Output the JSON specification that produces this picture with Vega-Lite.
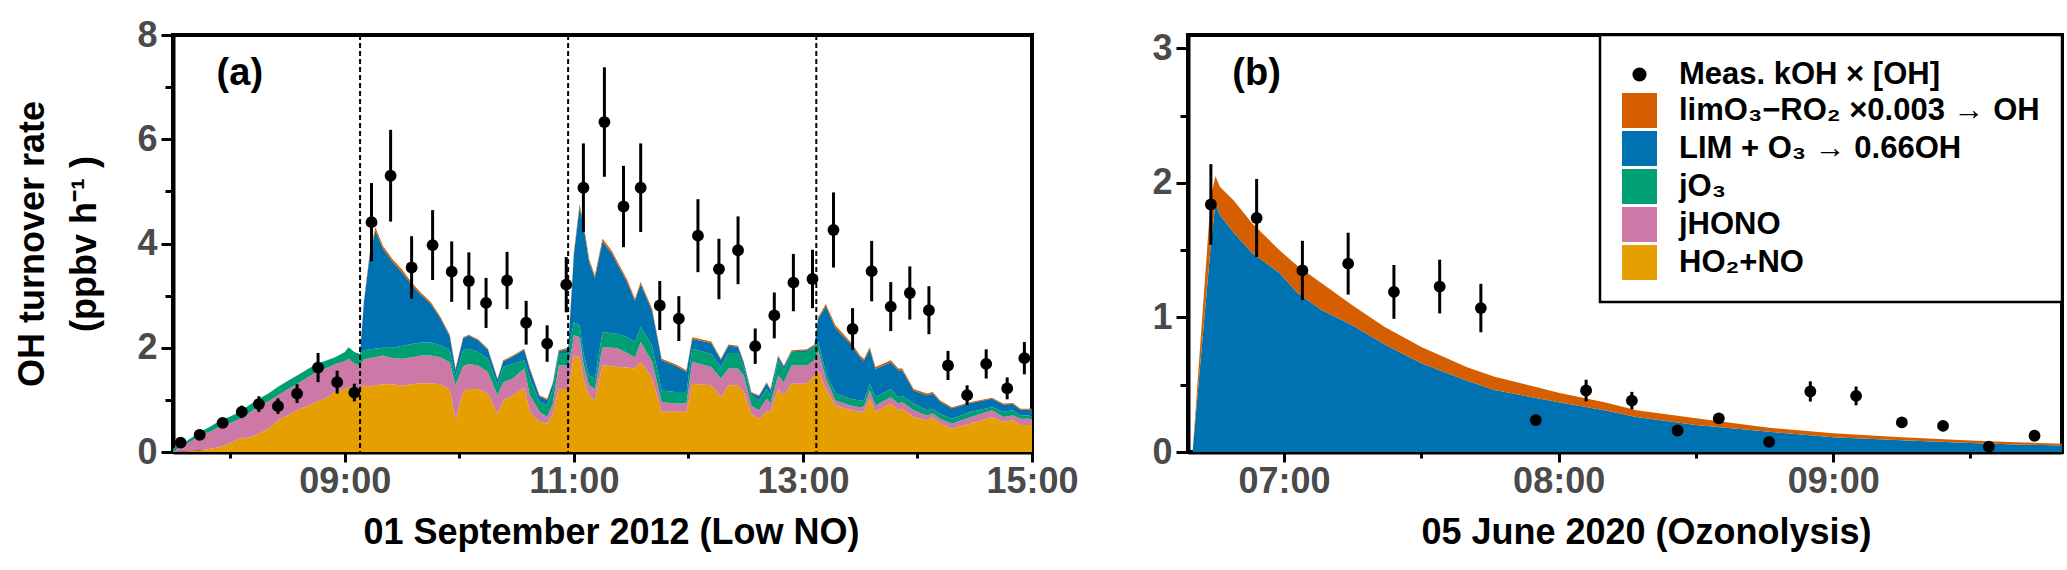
{
  "$schema": "https://vega.github.io/schema/vega-lite/v6.json",
  "padding": {"left": 12, "top": 15, "right": 5, "bottom": 5},
  "spacing": 68,
  "resolve": {"scale": {"color": "independent"}},
  "config": {
    "font": "Liberation Sans",
    "view": {"stroke": "black", "strokeWidth": 4},
    "axis": {
      "domainColor": "black", "domainWidth": 4, "tickColor": "black", "tickWidth": 3,
      "labelFont": "Liberation Sans", "labelFontSize": 36, "labelFontWeight": "bold", "labelColor": "#4a4a4a",
      "titleFont": "Liberation Sans", "titleFontSize": 36, "titleFontWeight": "bold", "titleColor": "black",
      "grid": false, "labelFlush": false, "labelOverlap": false
    }
  },
  "hconcat": [
    {
      "width": 859,
      "height": 417,
      "layer": [
        {
          "data": {
            "format": {"parse": {"time": "utc:'%H:%M'"}},
            "values": [
              {"time": "07:30", "ho2_no": 0, "j_hono": 0.02, "j_o3": 0.04, "lim_o3": 0, "limo3_ro2": 0},
              {"time": "07:36", "ho2_no": 0.01, "j_hono": 0.11, "j_o3": 0.06, "lim_o3": 0, "limo3_ro2": 0},
              {"time": "07:44", "ho2_no": 0.03, "j_hono": 0.29, "j_o3": 0.06, "lim_o3": 0, "limo3_ro2": 0},
              {"time": "07:50", "ho2_no": 0.06, "j_hono": 0.34, "j_o3": 0.1, "lim_o3": 0, "limo3_ro2": 0},
              {"time": "07:55", "ho2_no": 0.1, "j_hono": 0.4, "j_o3": 0.11, "lim_o3": 0, "limo3_ro2": 0},
              {"time": "08:00", "ho2_no": 0.17, "j_hono": 0.38, "j_o3": 0.13, "lim_o3": 0, "limo3_ro2": 0},
              {"time": "08:05", "ho2_no": 0.26, "j_hono": 0.38, "j_o3": 0.13, "lim_o3": 0, "limo3_ro2": 0},
              {"time": "08:10", "ho2_no": 0.28, "j_hono": 0.47, "j_o3": 0.15, "lim_o3": 0, "limo3_ro2": 0},
              {"time": "08:15", "ho2_no": 0.35, "j_hono": 0.54, "j_o3": 0.13, "lim_o3": 0, "limo3_ro2": 0},
              {"time": "08:20", "ho2_no": 0.45, "j_hono": 0.52, "j_o3": 0.15, "lim_o3": 0, "limo3_ro2": 0},
              {"time": "08:25", "ho2_no": 0.61, "j_hono": 0.48, "j_o3": 0.16, "lim_o3": 0, "limo3_ro2": 0},
              {"time": "08:30", "ho2_no": 0.7, "j_hono": 0.5, "j_o3": 0.16, "lim_o3": 0, "limo3_ro2": 0},
              {"time": "08:35", "ho2_no": 0.8, "j_hono": 0.51, "j_o3": 0.16, "lim_o3": 0, "limo3_ro2": 0},
              {"time": "08:40", "ho2_no": 0.88, "j_hono": 0.54, "j_o3": 0.16, "lim_o3": 0, "limo3_ro2": 0},
              {"time": "08:45", "ho2_no": 0.96, "j_hono": 0.57, "j_o3": 0.16, "lim_o3": 0, "limo3_ro2": 0},
              {"time": "08:50", "ho2_no": 1.03, "j_hono": 0.57, "j_o3": 0.15, "lim_o3": 0, "limo3_ro2": 0},
              {"time": "08:55", "ho2_no": 1.15, "j_hono": 0.54, "j_o3": 0.13, "lim_o3": 0, "limo3_ro2": 0},
              {"time": "09:00", "ho2_no": 1.2, "j_hono": 0.54, "j_o3": 0.18, "lim_o3": 0, "limo3_ro2": 0},
              {"time": "09:02", "ho2_no": 1.25, "j_hono": 0.54, "j_o3": 0.22, "lim_o3": 0, "limo3_ro2": 0},
              {"time": "09:05", "ho2_no": 1.22, "j_hono": 0.48, "j_o3": 0.22, "lim_o3": 0, "limo3_ro2": 0},
              {"time": "09:08", "ho2_no": 1.2, "j_hono": 0.46, "j_o3": 0.22, "lim_o3": 0, "limo3_ro2": 0},
              {"time": "09:10", "ho2_no": 1.28, "j_hono": 0.5, "j_o3": 0.17, "lim_o3": 0.92, "limo3_ro2": 0.03},
              {"time": "09:13", "ho2_no": 1.25, "j_hono": 0.55, "j_o3": 0.17, "lim_o3": 1.78, "limo3_ro2": 0.05},
              {"time": "09:16", "ho2_no": 1.28, "j_hono": 0.54, "j_o3": 0.16, "lim_o3": 2.27, "limo3_ro2": 0.06},
              {"time": "09:20", "ho2_no": 1.3, "j_hono": 0.55, "j_o3": 0.15, "lim_o3": 1.9, "limo3_ro2": 0.05},
              {"time": "09:25", "ho2_no": 1.3, "j_hono": 0.5, "j_o3": 0.2, "lim_o3": 1.65, "limo3_ro2": 0.05},
              {"time": "09:30", "ho2_no": 1.27, "j_hono": 0.52, "j_o3": 0.25, "lim_o3": 1.41, "limo3_ro2": 0.05},
              {"time": "09:35", "ho2_no": 1.3, "j_hono": 0.52, "j_o3": 0.25, "lim_o3": 1.14, "limo3_ro2": 0.04},
              {"time": "09:40", "ho2_no": 1.32, "j_hono": 0.53, "j_o3": 0.25, "lim_o3": 0.91, "limo3_ro2": 0.04},
              {"time": "09:45", "ho2_no": 1.32, "j_hono": 0.53, "j_o3": 0.25, "lim_o3": 0.74, "limo3_ro2": 0.04},
              {"time": "09:50", "ho2_no": 1.3, "j_hono": 0.52, "j_o3": 0.23, "lim_o3": 0.52, "limo3_ro2": 0.03},
              {"time": "09:55", "ho2_no": 1.2, "j_hono": 0.52, "j_o3": 0.23, "lim_o3": 0.27, "limo3_ro2": 0.03},
              {"time": "09:58", "ho2_no": 0.62, "j_hono": 0.66, "j_o3": 0.17, "lim_o3": 0.13, "limo3_ro2": 0.02},
              {"time": "10:02", "ho2_no": 1.15, "j_hono": 0.5, "j_o3": 0.3, "lim_o3": 0.23, "limo3_ro2": 0.02},
              {"time": "10:05", "ho2_no": 1.21, "j_hono": 0.48, "j_o3": 0.29, "lim_o3": 0.25, "limo3_ro2": 0.02},
              {"time": "10:10", "ho2_no": 1.21, "j_hono": 0.45, "j_o3": 0.26, "lim_o3": 0.22, "limo3_ro2": 0.02},
              {"time": "10:15", "ho2_no": 1.12, "j_hono": 0.41, "j_o3": 0.26, "lim_o3": 0.17, "limo3_ro2": 0.02},
              {"time": "10:20", "ho2_no": 0.73, "j_hono": 0.36, "j_o3": 0.19, "lim_o3": 0.11, "limo3_ro2": 0.02},
              {"time": "10:23", "ho2_no": 0.99, "j_hono": 0.35, "j_o3": 0.29, "lim_o3": 0.11, "limo3_ro2": 0.02},
              {"time": "10:28", "ho2_no": 1.09, "j_hono": 0.32, "j_o3": 0.28, "lim_o3": 0.14, "limo3_ro2": 0.02},
              {"time": "10:34", "ho2_no": 1.23, "j_hono": 0.37, "j_o3": 0.16, "lim_o3": 0.2, "limo3_ro2": 0.02},
              {"time": "10:37", "ho2_no": 0.77, "j_hono": 0.32, "j_o3": 0.32, "lim_o3": 0.17, "limo3_ro2": 0.02},
              {"time": "10:42", "ho2_no": 0.58, "j_hono": 0.19, "j_o3": 0.19, "lim_o3": 0.11, "limo3_ro2": 0.02},
              {"time": "10:46", "ho2_no": 0.54, "j_hono": 0.13, "j_o3": 0.22, "lim_o3": 0.11, "limo3_ro2": 0.02},
              {"time": "10:49", "ho2_no": 0.73, "j_hono": 0.2, "j_o3": 0.28, "lim_o3": 0.11, "limo3_ro2": 0.02},
              {"time": "10:52", "ho2_no": 1.21, "j_hono": 0.45, "j_o3": 0.24, "lim_o3": 0.03, "limo3_ro2": 0.02},
              {"time": "10:57", "ho2_no": 1.21, "j_hono": 0.45, "j_o3": 0.24, "lim_o3": 0.08, "limo3_ro2": 0.02},
              {"time": "10:59", "ho2_no": 1.6, "j_hono": 0.4, "j_o3": 0.3, "lim_o3": 0.86, "limo3_ro2": 0.04},
              {"time": "11:00", "ho2_no": 1.85, "j_hono": 0.39, "j_o3": 0.25, "lim_o3": 1.29, "limo3_ro2": 0.05},
              {"time": "11:03", "ho2_no": 1.82, "j_hono": 0.38, "j_o3": 0.23, "lim_o3": 2.27, "limo3_ro2": 0.06},
              {"time": "11:05", "ho2_no": 1.4, "j_hono": 0.3, "j_o3": 0.2, "lim_o3": 2.44, "limo3_ro2": 0.06},
              {"time": "11:08", "ho2_no": 1.09, "j_hono": 0.19, "j_o3": 0.19, "lim_o3": 2.18, "limo3_ro2": 0.05},
              {"time": "11:11", "ho2_no": 0.99, "j_hono": 0.22, "j_o3": 0.2, "lim_o3": 1.93, "limo3_ro2": 0.05},
              {"time": "11:15", "ho2_no": 1.66, "j_hono": 0.35, "j_o3": 0.29, "lim_o3": 1.74, "limo3_ro2": 0.05},
              {"time": "11:20", "ho2_no": 1.65, "j_hono": 0.35, "j_o3": 0.28, "lim_o3": 1.52, "limo3_ro2": 0.05},
              {"time": "11:23", "ho2_no": 1.63, "j_hono": 0.36, "j_o3": 0.28, "lim_o3": 1.32, "limo3_ro2": 0.05},
              {"time": "11:28", "ho2_no": 1.62, "j_hono": 0.28, "j_o3": 0.3, "lim_o3": 1.05, "limo3_ro2": 0.05},
              {"time": "11:32", "ho2_no": 1.6, "j_hono": 0.22, "j_o3": 0.29, "lim_o3": 0.79, "limo3_ro2": 0.04},
              {"time": "11:35", "ho2_no": 1.73, "j_hono": 0.38, "j_o3": 0.29, "lim_o3": 0.82, "limo3_ro2": 0.04},
              {"time": "11:41", "ho2_no": 1.41, "j_hono": 0.32, "j_o3": 0.31, "lim_o3": 0.67, "limo3_ro2": 0.04},
              {"time": "11:46", "ho2_no": 0.77, "j_hono": 0.19, "j_o3": 0.22, "lim_o3": 0.58, "limo3_ro2": 0.03},
              {"time": "11:53", "ho2_no": 0.77, "j_hono": 0.16, "j_o3": 0.22, "lim_o3": 0.51, "limo3_ro2": 0.03},
              {"time": "11:59", "ho2_no": 0.77, "j_hono": 0.16, "j_o3": 0.22, "lim_o3": 0.39, "limo3_ro2": 0.03},
              {"time": "12:02", "ho2_no": 1.31, "j_hono": 0.42, "j_o3": 0.25, "lim_o3": 0.19, "limo3_ro2": 0.03},
              {"time": "12:12", "ho2_no": 1.28, "j_hono": 0.35, "j_o3": 0.25, "lim_o3": 0.21, "limo3_ro2": 0.03},
              {"time": "12:17", "ho2_no": 1.05, "j_hono": 0.36, "j_o3": 0.22, "lim_o3": 0.14, "limo3_ro2": 0.02},
              {"time": "12:21", "ho2_no": 1.28, "j_hono": 0.32, "j_o3": 0.3, "lim_o3": 0.14, "limo3_ro2": 0.02},
              {"time": "12:26", "ho2_no": 1.28, "j_hono": 0.32, "j_o3": 0.3, "lim_o3": 0.12, "limo3_ro2": 0.02},
              {"time": "12:29", "ho2_no": 1.15, "j_hono": 0.32, "j_o3": 0.16, "lim_o3": 0.08, "limo3_ro2": 0.02},
              {"time": "12:33", "ho2_no": 0.73, "j_hono": 0.16, "j_o3": 0.2, "lim_o3": 0.04, "limo3_ro2": 0.02},
              {"time": "12:37", "ho2_no": 0.64, "j_hono": 0.16, "j_o3": 0.19, "lim_o3": 0.08, "limo3_ro2": 0.02},
              {"time": "12:41", "ho2_no": 0.77, "j_hono": 0.25, "j_o3": 0.19, "lim_o3": 0.11, "limo3_ro2": 0.02},
              {"time": "12:43", "ho2_no": 0.77, "j_hono": 0.16, "j_o3": 0.16, "lim_o3": 0.1, "limo3_ro2": 0.02},
              {"time": "12:47", "ho2_no": 1.21, "j_hono": 0.26, "j_o3": 0.29, "lim_o3": 0.07, "limo3_ro2": 0.02},
              {"time": "12:50", "ho2_no": 1.09, "j_hono": 0.25, "j_o3": 0.23, "lim_o3": 0.07, "limo3_ro2": 0.02},
              {"time": "12:54", "ho2_no": 1.31, "j_hono": 0.35, "j_o3": 0.26, "lim_o3": 0.01, "limo3_ro2": 0.02},
              {"time": "13:02", "ho2_no": 1.31, "j_hono": 0.35, "j_o3": 0.26, "lim_o3": 0.03, "limo3_ro2": 0.02},
              {"time": "13:06", "ho2_no": 1.47, "j_hono": 0.29, "j_o3": 0.25, "lim_o3": 0.03, "limo3_ro2": 0.02},
              {"time": "13:08", "ho2_no": 1.57, "j_hono": 0.38, "j_o3": 0.16, "lim_o3": 0.45, "limo3_ro2": 0.03},
              {"time": "13:12", "ho2_no": 1.21, "j_hono": 0.2, "j_o3": 0.12, "lim_o3": 1.26, "limo3_ro2": 0.05},
              {"time": "13:17", "ho2_no": 0.89, "j_hono": 0.1, "j_o3": 0.13, "lim_o3": 1.26, "limo3_ro2": 0.05},
              {"time": "13:25", "ho2_no": 0.8, "j_hono": 0.09, "j_o3": 0.13, "lim_o3": 1.05, "limo3_ro2": 0.04},
              {"time": "13:30", "ho2_no": 0.77, "j_hono": 0.09, "j_o3": 0.13, "lim_o3": 0.82, "limo3_ro2": 0.04},
              {"time": "13:32", "ho2_no": 0.77, "j_hono": 0.11, "j_o3": 0.12, "lim_o3": 0.75, "limo3_ro2": 0.04},
              {"time": "13:35", "ho2_no": 1.02, "j_hono": 0.16, "j_o3": 0.13, "lim_o3": 0.66, "limo3_ro2": 0.04},
              {"time": "13:38", "ho2_no": 0.77, "j_hono": 0.12, "j_o3": 0.16, "lim_o3": 0.54, "limo3_ro2": 0.04},
              {"time": "13:46", "ho2_no": 0.93, "j_hono": 0.12, "j_o3": 0.16, "lim_o3": 0.51, "limo3_ro2": 0.04},
              {"time": "13:50", "ho2_no": 0.8, "j_hono": 0.13, "j_o3": 0.12, "lim_o3": 0.52, "limo3_ro2": 0.03},
              {"time": "13:52", "ho2_no": 0.83, "j_hono": 0.13, "j_o3": 0.12, "lim_o3": 0.49, "limo3_ro2": 0.03},
              {"time": "13:58", "ho2_no": 0.67, "j_hono": 0.13, "j_o3": 0.13, "lim_o3": 0.25, "limo3_ro2": 0.03},
              {"time": "14:05", "ho2_no": 0.61, "j_hono": 0.09, "j_o3": 0.1, "lim_o3": 0.29, "limo3_ro2": 0.03},
              {"time": "14:08", "ho2_no": 0.66, "j_hono": 0.08, "j_o3": 0.09, "lim_o3": 0.29, "limo3_ro2": 0.03},
              {"time": "14:12", "ho2_no": 0.54, "j_hono": 0.1, "j_o3": 0.09, "lim_o3": 0.23, "limo3_ro2": 0.03},
              {"time": "14:18", "ho2_no": 0.45, "j_hono": 0.09, "j_o3": 0.1, "lim_o3": 0.2, "limo3_ro2": 0.02},
              {"time": "14:28", "ho2_no": 0.54, "j_hono": 0.13, "j_o3": 0.1, "lim_o3": 0.17, "limo3_ro2": 0.02},
              {"time": "14:39", "ho2_no": 0.67, "j_hono": 0.13, "j_o3": 0.06, "lim_o3": 0.16, "limo3_ro2": 0.02},
              {"time": "14:45", "ho2_no": 0.58, "j_hono": 0.09, "j_o3": 0.1, "lim_o3": 0.14, "limo3_ro2": 0.02},
              {"time": "14:50", "ho2_no": 0.61, "j_hono": 0.09, "j_o3": 0.1, "lim_o3": 0.12, "limo3_ro2": 0.02},
              {"time": "14:54", "ho2_no": 0.52, "j_hono": 0.12, "j_o3": 0.06, "lim_o3": 0.11, "limo3_ro2": 0.02},
              {"time": "15:00", "ho2_no": 0.52, "j_hono": 0.12, "j_o3": 0.06, "lim_o3": 0.11, "limo3_ro2": 0.02}
            ]
          },
          "transform": [{"fold": ["ho2_no", "j_hono", "j_o3", "lim_o3", "limo3_ro2"], "as": ["key", "v"]}],
          "mark": {"type": "area", "opacity": 1, "interpolate": "linear"},
          "encoding": {
            "x": {
              "field": "time", "type": "temporal",
              "scale": {"type": "utc", "domain": [
                {"year": 1900, "month": 1, "date": 1, "hours": 7, "minutes": 30, "utc": true},
                {"year": 1900, "month": 1, "date": 1, "hours": 15, "minutes": 0, "utc": true}]},
              "title": "01 September 2012 (Low NO)",
              "axis": {
                "values": [
                  {"year": 1900, "month": 1, "date": 1, "hours": 8, "utc": true},
                  {"year": 1900, "month": 1, "date": 1, "hours": 9, "utc": true},
                  {"year": 1900, "month": 1, "date": 1, "hours": 10, "utc": true},
                  {"year": 1900, "month": 1, "date": 1, "hours": 11, "utc": true},
                  {"year": 1900, "month": 1, "date": 1, "hours": 12, "utc": true},
                  {"year": 1900, "month": 1, "date": 1, "hours": 13, "utc": true},
                  {"year": 1900, "month": 1, "date": 1, "hours": 14, "utc": true},
                  {"year": 1900, "month": 1, "date": 1, "hours": 15, "utc": true}
                ],
                "labelExpr": "utchours(datum.value) % 2 == 1 ? utcFormat(datum.value, '%H:%M') : ''",
                "tickSize": {"condition": {"test": "utchours(datum.value) % 2 == 1", "value": 10}, "value": 6},
                "labelOverlap": false,
                "labelPadding": 2,
                "titlePadding": 16,
                "titleX": 438
              }
            },
            "y": {
              "field": "v", "type": "quantitative",
              "scale": {"domain": [0, 8], "nice": false},
              "title": ["OH turnover rate", "(ppbv h⁻¹ )"],
              "axis": {
                "values": [0, 0.5, 1, 1.5, 2, 2.5, 3, 3.5, 4, 4.5, 5, 5.5, 6, 6.5, 7, 7.5, 8],
                "labelExpr": "datum.value % 2 == 0 ? format(datum.value, 'd') : ''",
                "tickSize": {"condition": {"test": "datum.value % 2 == 0", "value": 12}, "value": 8},
                "labelOverlap": false,
                "labelPadding": 4,
                "titlePadding": 33,
                "titleLineHeight": 52
              }
            },
            "color": {
              "field": "key", "type": "nominal",
              "scale": {
                "domain": ["meas", "limo3_ro2", "lim_o3", "j_o3", "j_hono", "ho2_no"],
                "range": ["black", "#D55E00", "#0072B2", "#009E73", "#CC79A7", "#E69F00"]
              },
              "legend": null
            },
            "order": {"field": "key", "type": "ordinal", "sort": "ascending"}
          }
        },
        {
          "data": {
            "format": {"parse": {"time": "utc:'%H:%M'"}},
            "values": [{"time": "09:08"}, {"time": "10:57"}, {"time": "13:07"}]
          },
          "mark": {"type": "rule", "color": "black", "strokeWidth": 2, "strokeDash": [5, 3]},
          "encoding": {
            "x": {"field": "time", "type": "temporal", "title": "01 September 2012 (Low NO)"}
          }
        },
        {
          "data": {
            "format": {"parse": {"time": "utc:'%H:%M'"}},
            "values": [
              {"time": "07:34", "v": 0.18, "e": 0.04},
              {"time": "07:44", "v": 0.33, "e": 0.06},
              {"time": "07:56", "v": 0.56, "e": 0.09},
              {"time": "08:06", "v": 0.77, "e": 0.12},
              {"time": "08:15", "v": 0.92, "e": 0.15},
              {"time": "08:25", "v": 0.88, "e": 0.15},
              {"time": "08:35", "v": 1.12, "e": 0.18},
              {"time": "08:46", "v": 1.62, "e": 0.28},
              {"time": "08:56", "v": 1.34, "e": 0.22},
              {"time": "09:05", "v": 1.14, "e": 0.17},
              {"time": "09:14", "v": 4.41, "e": 0.75},
              {"time": "09:24", "v": 5.3, "e": 0.88},
              {"time": "09:35", "v": 3.54, "e": 0.6},
              {"time": "09:46", "v": 3.97, "e": 0.67},
              {"time": "09:56", "v": 3.46, "e": 0.58},
              {"time": "10:05", "v": 3.28, "e": 0.55},
              {"time": "10:14", "v": 2.86, "e": 0.48},
              {"time": "10:25", "v": 3.29, "e": 0.55},
              {"time": "10:35", "v": 2.48, "e": 0.42},
              {"time": "10:46", "v": 2.08, "e": 0.35},
              {"time": "10:56", "v": 3.21, "e": 0.53},
              {"time": "11:05", "v": 5.07, "e": 0.85},
              {"time": "11:16", "v": 6.33, "e": 1.05},
              {"time": "11:26", "v": 4.71, "e": 0.78},
              {"time": "11:35", "v": 5.07, "e": 0.85},
              {"time": "11:45", "v": 2.81, "e": 0.47},
              {"time": "11:55", "v": 2.56, "e": 0.43},
              {"time": "12:05", "v": 4.15, "e": 0.7},
              {"time": "12:16", "v": 3.51, "e": 0.58},
              {"time": "12:26", "v": 3.87, "e": 0.65},
              {"time": "12:35", "v": 2.03, "e": 0.34},
              {"time": "12:45", "v": 2.62, "e": 0.44},
              {"time": "12:55", "v": 3.25, "e": 0.55},
              {"time": "13:05", "v": 3.32, "e": 0.56},
              {"time": "13:16", "v": 4.26, "e": 0.72},
              {"time": "13:26", "v": 2.36, "e": 0.4},
              {"time": "13:36", "v": 3.47, "e": 0.58},
              {"time": "13:46", "v": 2.79, "e": 0.47},
              {"time": "13:56", "v": 3.05, "e": 0.51},
              {"time": "14:06", "v": 2.72, "e": 0.46},
              {"time": "14:16", "v": 1.66, "e": 0.28},
              {"time": "14:26", "v": 1.09, "e": 0.19},
              {"time": "14:36", "v": 1.69, "e": 0.28},
              {"time": "14:47", "v": 1.22, "e": 0.21},
              {"time": "14:56", "v": 1.8, "e": 0.31}
            ]
          },
          "encoding": {
            "x": {"field": "time", "type": "temporal", "title": "01 September 2012 (Low NO)"},
            "y": {"field": "v", "type": "quantitative", "title": ["OH turnover rate", "(ppbv h⁻¹ )"]}
          },
          "layer": [
            {
              "mark": {"type": "errorbar", "color": "black", "thickness": 3},
              "encoding": {"yError": {"field": "e"}}
            },
            {
              "mark": {"type": "point", "filled": true, "color": "black", "opacity": 1, "size": 140}
            }
          ]
        },
        {
          "data": {"values": [{}]},
          "mark": {"type": "text", "text": "(a)", "fontSize": 38, "fontWeight": "bold", "color": "black", "align": "center", "baseline": "middle"},
          "encoding": {
            "x": {"datum": {"year": 1900, "month": 1, "date": 1, "hours": 8, "minutes": 5, "utc": true}, "type": "temporal", "title": "01 September 2012 (Low NO)"},
            "y": {"datum": 7.25, "type": "quantitative", "title": ["OH turnover rate", "(ppbv h⁻¹ )"]}
          }
        }
      ]
    },
    {
      "width": 874,
      "height": 417,
      "layer": [
        {
          "data": {
            "format": {"parse": {"time": "utc:'%H:%M'"}},
            "values": [
              {"time": "06:40", "lim_o3": 0, "limo3_ro2": 0},
              {"time": "06:44", "lim_o3": 1.55, "limo3_ro2": 0.35},
              {"time": "06:45", "lim_o3": 1.85, "limo3_ro2": 0.2},
              {"time": "06:46", "lim_o3": 1.76, "limo3_ro2": 0.21},
              {"time": "06:49", "lim_o3": 1.63, "limo3_ro2": 0.24},
              {"time": "06:53", "lim_o3": 1.48, "limo3_ro2": 0.22},
              {"time": "06:59", "lim_o3": 1.33, "limo3_ro2": 0.17},
              {"time": "07:03", "lim_o3": 1.18, "limo3_ro2": 0.2},
              {"time": "07:08", "lim_o3": 1.06, "limo3_ro2": 0.2},
              {"time": "07:15", "lim_o3": 0.94, "limo3_ro2": 0.15},
              {"time": "07:22", "lim_o3": 0.8, "limo3_ro2": 0.13},
              {"time": "07:30", "lim_o3": 0.66, "limo3_ro2": 0.12},
              {"time": "07:40", "lim_o3": 0.53, "limo3_ro2": 0.1},
              {"time": "07:46", "lim_o3": 0.46, "limo3_ro2": 0.1},
              {"time": "08:00", "lim_o3": 0.37, "limo3_ro2": 0.07},
              {"time": "08:10", "lim_o3": 0.31, "limo3_ro2": 0.06},
              {"time": "08:17", "lim_o3": 0.26, "limo3_ro2": 0.05},
              {"time": "08:30", "lim_o3": 0.2, "limo3_ro2": 0.05},
              {"time": "08:46", "lim_o3": 0.15, "limo3_ro2": 0.03},
              {"time": "09:00", "lim_o3": 0.11, "limo3_ro2": 0.03},
              {"time": "09:15", "lim_o3": 0.088, "limo3_ro2": 0.022},
              {"time": "09:30", "lim_o3": 0.067, "limo3_ro2": 0.018},
              {"time": "09:40", "lim_o3": 0.056, "limo3_ro2": 0.016},
              {"time": "09:50", "lim_o3": 0.048, "limo3_ro2": 0.014}
            ]
          },
          "transform": [{"fold": ["lim_o3", "limo3_ro2"], "as": ["key", "v"]}],
          "mark": {"type": "area", "opacity": 1, "interpolate": "linear"},
          "encoding": {
            "x": {
              "field": "time", "type": "temporal",
              "scale": {"type": "utc", "domain": [
                {"year": 1900, "month": 1, "date": 1, "hours": 6, "minutes": 39, "utc": true},
                {"year": 1900, "month": 1, "date": 1, "hours": 9, "minutes": 50, "utc": true}]},
              "title": "05 June 2020 (Ozonolysis)",
              "axis": {
                "values": [
                  {"year": 1900, "month": 1, "date": 1, "hours": 7, "minutes": 0, "utc": true},
                  {"year": 1900, "month": 1, "date": 1, "hours": 7, "minutes": 30, "utc": true},
                  {"year": 1900, "month": 1, "date": 1, "hours": 8, "minutes": 0, "utc": true},
                  {"year": 1900, "month": 1, "date": 1, "hours": 8, "minutes": 30, "utc": true},
                  {"year": 1900, "month": 1, "date": 1, "hours": 9, "minutes": 0, "utc": true},
                  {"year": 1900, "month": 1, "date": 1, "hours": 9, "minutes": 30, "utc": true}
                ],
                "labelExpr": "utcminutes(datum.value) == 0 ? utcFormat(datum.value, '%H:%M') : ''",
                "tickSize": {"condition": {"test": "utcminutes(datum.value) == 0", "value": 10}, "value": 6},
                "labelOverlap": false,
                "labelPadding": 2,
                "titlePadding": 16,
                "titleX": 458
              }
            },
            "y": {
              "field": "v", "type": "quantitative",
              "scale": {"domain": [0, 3.1], "nice": false},
              "title": null,
              "axis": {
                "values": [0, 0.25, 0.5, 0.75, 1, 1.25, 1.5, 1.75, 2, 2.25, 2.5, 2.75, 3],
                "labelExpr": "abs(datum.value - round(datum.value)) < 0.01 ? format(datum.value, 'd') : ''",
                "tickSize": {"condition": {"test": "abs(datum.value - round(datum.value)) < 0.01", "value": 12}, "value": 8},
                "labelOverlap": false,
                "labelPadding": 4
              }
            },
            "color": {
              "field": "key", "type": "nominal",
              "scale": {
                "domain": ["meas", "limo3_ro2", "lim_o3", "j_o3", "j_hono", "ho2_no"],
                "range": ["black", "#D55E00", "#0072B2", "#009E73", "#CC79A7", "#E69F00"]
              },
              "legend": {
                "title": null, "orient": "top-right", "offset": 0, "padding": 22,
                "strokeColor": "black", "fillColor": "white",
                "labelFont": "Liberation Sans", "labelFontSize": 31, "labelFontWeight": "bold", "labelColor": "black",
                "labelLimit": 600, "labelOffset": 22, "rowPadding": 3,
                "symbolSize": 1225, "symbolType": "square", "symbolStrokeWidth": 0, "symbolOpacity": 1,
                "labelExpr": "datum.value == 'meas' ? 'Meas. kOH × [OH]' : datum.value == 'limo3_ro2' ? 'limO₃−RO₂ ×0.003 → OH' : datum.value == 'lim_o3' ? 'LIM + O₃ → 0.66OH' : datum.value == 'j_o3' ? 'jO₃' : datum.value == 'j_hono' ? 'jHONO' : 'HO₂+NO'",
                "encode": {
                  "legend": {"update": {"strokeWidth": {"value": 2.5}}},
                  "symbols": {"update": {
                    "shape": {"signal": "datum.value == 'meas' ? 'circle' : 'square'"},
                    "size": {"signal": "datum.value == 'meas' ? 200 : 1225"}
                  }}
                }
              }
            },
            "order": {"field": "key", "type": "ordinal", "sort": "ascending"}
          }
        },
        {
          "data": {
            "format": {"parse": {"time": "utc:'%H:%M'"}},
            "values": [
              {"time": "06:44", "v": 1.84, "e": 0.3},
              {"time": "06:54", "v": 1.74, "e": 0.29},
              {"time": "07:04", "v": 1.35, "e": 0.22},
              {"time": "07:14", "v": 1.4, "e": 0.23},
              {"time": "07:24", "v": 1.19, "e": 0.2},
              {"time": "07:34", "v": 1.23, "e": 0.2},
              {"time": "07:43", "v": 1.07, "e": 0.18},
              {"time": "07:55", "v": 0.237, "e": 0.04},
              {"time": "08:06", "v": 0.457, "e": 0.08},
              {"time": "08:16", "v": 0.382, "e": 0.065},
              {"time": "08:26", "v": 0.16, "e": 0.03},
              {"time": "08:35", "v": 0.25, "e": 0.04},
              {"time": "08:46", "v": 0.075, "e": 0.015},
              {"time": "08:55", "v": 0.45, "e": 0.075},
              {"time": "09:05", "v": 0.417, "e": 0.07},
              {"time": "09:15", "v": 0.22, "e": 0.04},
              {"time": "09:24", "v": 0.194, "e": 0.035},
              {"time": "09:34", "v": 0.04, "e": 0.01},
              {"time": "09:44", "v": 0.121, "e": 0.02}
            ]
          },
          "encoding": {
            "x": {"field": "time", "type": "temporal", "title": "05 June 2020 (Ozonolysis)"},
            "y": {"field": "v", "type": "quantitative", "title": null}
          },
          "layer": [
            {
              "mark": {"type": "errorbar", "color": "black", "thickness": 3},
              "encoding": {"yError": {"field": "e"}}
            },
            {
              "mark": {"type": "point", "filled": true, "opacity": 1, "size": 140},
              "encoding": {"color": {"datum": "meas"}}
            }
          ]
        },
        {
          "data": {"values": [{}]},
          "mark": {"type": "text", "text": "(b)", "fontSize": 38, "fontWeight": "bold", "color": "black", "align": "center", "baseline": "middle"},
          "encoding": {
            "x": {"datum": {"year": 1900, "month": 1, "date": 1, "hours": 6, "minutes": 54, "utc": true}, "type": "temporal", "title": "05 June 2020 (Ozonolysis)"},
            "y": {"datum": 2.81, "type": "quantitative", "title": null}
          }
        }
      ]
    }
  ]
}
